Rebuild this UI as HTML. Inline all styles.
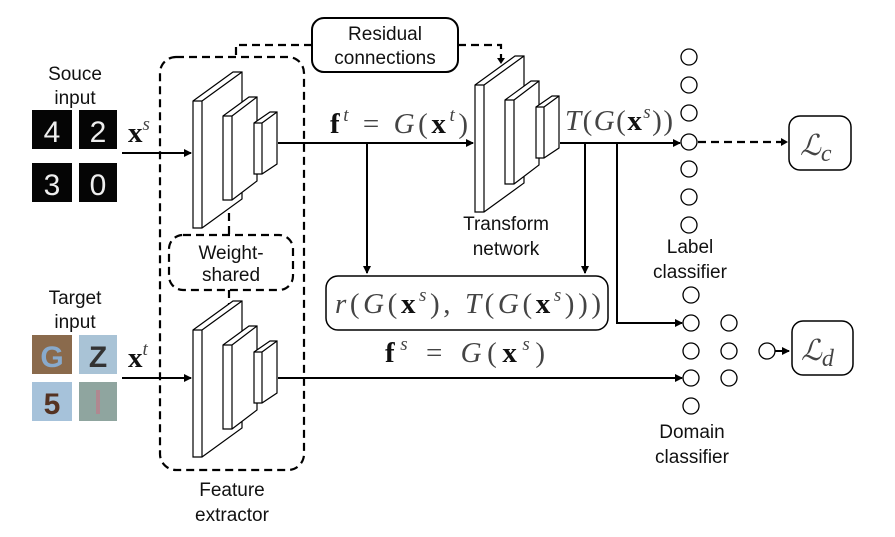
<!DOCTYPE html>
<html><head><meta charset="utf-8"><style>
html,body{margin:0;padding:0;background:#fff}
svg{display:block}
.s{font-family:"Liberation Sans",sans-serif;font-size:19px;fill:#111;text-anchor:middle}
.m{font-family:"Liberation Serif",serif;font-size:29px;fill:#444;font-style:italic}
.b{font-weight:bold;font-style:normal;fill:#111}
.u{font-style:normal}
</style></head><body>
<svg width="895" height="537" viewBox="0 0 895 537" xmlns="http://www.w3.org/2000/svg">
<defs>
<marker id="a" markerWidth="8" markerHeight="8" refX="7" refY="4" orient="auto" markerUnits="userSpaceOnUse"><path d="M0,0 L8,4 L0,8 z" fill="#000"/></marker>
<g id="net">
<path d="M193,101 L233,72 L242,72 L242,199 L202,228 L193,228 Z" fill="#fff" stroke="#000" stroke-width="1.2"/>
<path d="M193,101 L202,101 L242,72 M202,101 L202,228" fill="none" stroke="#000" stroke-width="1.2"/>
<path d="M223,116 L249,97 L257,97 L257,181 L232,200 L223,200 Z" fill="#fff" stroke="#000" stroke-width="1.2"/>
<path d="M223,116 L232,116 L257,97 M232,116 L232,200" fill="none" stroke="#000" stroke-width="1.2"/>
<path d="M254,123 L270,112 L277,112 L277,164 L262,174 L254,174 Z" fill="#fff" stroke="#000" stroke-width="1.2"/>
<path d="M254,123 L262,123 L277,112 M262,123 L262,174" fill="none" stroke="#000" stroke-width="1.2"/>
</g>
</defs>

<!-- source inputs -->
<text class="s" x="75" y="80">Souce</text>
<text class="s" x="75" y="104">input</text>
<rect x="32" y="110" width="40" height="39" fill="#050505"/>
<rect x="79" y="110" width="38" height="39" fill="#050505"/>
<rect x="32" y="163" width="40" height="39" fill="#050505"/>
<rect x="79" y="163" width="38" height="39" fill="#050505"/>
<text x="52" y="142" font-family="Liberation Sans" font-size="30" fill="#eee" text-anchor="middle">4</text>
<text x="98" y="142" font-family="Liberation Sans" font-size="30" fill="#eee" text-anchor="middle">2</text>
<text x="52" y="195" font-family="Liberation Sans" font-size="30" fill="#eee" text-anchor="middle">3</text>
<text x="98" y="195" font-family="Liberation Sans" font-size="30" fill="#eee" text-anchor="middle">0</text>

<!-- target inputs -->
<text class="s" x="75" y="304">Target</text>
<text class="s" x="75" y="328">input</text>
<rect x="32" y="335" width="40" height="39" fill="#8a6a4c"/>
<rect x="79" y="335" width="38" height="39" fill="#a9c3d6"/>
<rect x="32" y="382" width="40" height="39" fill="#a6c2da"/>
<rect x="79" y="382" width="38" height="39" fill="#8fa59f"/>
<text x="52" y="367" font-family="Liberation Sans" font-size="30" fill="#88aacc" text-anchor="middle" font-weight="bold">G</text>
<text x="98" y="367" font-family="Liberation Sans" font-size="30" fill="#333" text-anchor="middle" font-weight="bold">Z</text>
<text x="52" y="414" font-family="Liberation Sans" font-size="30" fill="#553322" text-anchor="middle" font-weight="bold">5</text>
<rect x="96" y="390" width="4" height="24" fill="#b08890"/>

<text class="m" x="128" y="142"><tspan class="b">x</tspan><tspan font-size="19" dy="-12">s</tspan></text>
<text class="m" x="128" y="367"><tspan class="b">x</tspan><tspan font-size="19" dy="-12">t</tspan></text>

<!-- dashed boxes -->
<g fill="none" stroke="#000" stroke-width="2.2" stroke-dasharray="8,5">
<rect x="160" y="57" width="144" height="413" rx="16"/>
<rect x="169" y="235" width="124" height="55" rx="14"/>
<path d="M229,200 V235 M229,290 V305"/>
<path d="M312,45 H236 V57"/>
<path d="M458,45 H501 V58"/>
<path d="M698,142 H782"/>
</g>
<path d="M497,58 L501,64 L505,58 z" fill="#000"/>
<path d="M781,138 L788,142 L781,146 z" fill="#000"/>

<rect x="312" y="18" width="146" height="54" rx="12" fill="#fff" stroke="#000" stroke-width="2"/>
<text class="s" x="385" y="40">Residual</text>
<text class="s" x="385" y="64">connections</text>
<text class="s" x="231" y="259">Weight-</text>
<text class="s" x="231" y="281">shared</text>
<text class="s" x="232" y="496">Feature</text>
<text class="s" x="232" y="521">extractor</text>

<!-- networks -->
<use href="#net"/>
<use href="#net" transform="translate(0,229)"/>
<use href="#net" transform="translate(282,-16)"/>

<!-- connectors -->
<g fill="none" stroke="#000" stroke-width="2">
<path d="M122,153 H191" marker-end="url(#a)"/>
<path d="M122,378 H191" marker-end="url(#a)"/>
<path d="M278,143 H473" marker-end="url(#a)"/>
<path d="M367,143 V273" marker-end="url(#a)"/>
<path d="M560,143 H680" marker-end="url(#a)"/>
<path d="M585,143 V273" marker-end="url(#a)"/>
<path d="M617,143 V323 H682" marker-end="url(#a)"/>
<path d="M278,378 H682" marker-end="url(#a)"/>
<path d="M775,351 H789" marker-end="url(#a)"/>
</g>

<text class="s" x="506" y="230">Transform</text>
<text class="s" x="506" y="255">network</text>

<text class="m" x="330" y="133" textLength="138" lengthAdjust="spacing"><tspan class="b">f</tspan><tspan font-size="19" dy="-12">t</tspan><tspan dy="12" class="u"> = </tspan>G<tspan class="u">(</tspan><tspan class="b">x</tspan><tspan font-size="19" dy="-12">t</tspan><tspan dy="12" class="u">)</tspan></text>
<text class="m" x="565" y="130" textLength="108" lengthAdjust="spacing">T<tspan class="u">(</tspan>G<tspan class="u">(</tspan><tspan class="b">x</tspan><tspan font-size="19" dy="-12">s</tspan><tspan dy="12" class="u">))</tspan></text>

<rect x="326" y="276" width="282" height="54" rx="12" fill="#fff" stroke="#000" stroke-width="1.5"/>
<text class="m" x="335" y="313" textLength="266" lengthAdjust="spacing">r<tspan class="u">(</tspan>G<tspan class="u">(</tspan><tspan class="b">x</tspan><tspan font-size="19" dy="-12">s</tspan><tspan dy="12" class="u">), </tspan>T<tspan class="u">(</tspan>G<tspan class="u">(</tspan><tspan class="b">x</tspan><tspan font-size="19" dy="-12">s</tspan><tspan dy="12" class="u">)))</tspan></text>
<text class="m" x="385" y="362" textLength="160" lengthAdjust="spacing"><tspan class="b">f</tspan><tspan font-size="19" dy="-12">s</tspan><tspan dy="12" class="u"> = </tspan>G<tspan class="u">(</tspan><tspan class="b">x</tspan><tspan font-size="19" dy="-12">s</tspan><tspan dy="12" class="u">)</tspan></text>

<!-- circles -->
<g fill="#fff" stroke="#000" stroke-width="1.3">
<circle cx="689" cy="57" r="8"/><circle cx="689" cy="85" r="8"/><circle cx="689" cy="113" r="8"/>
<circle cx="689" cy="142" r="8"/><circle cx="689" cy="169" r="8"/><circle cx="689" cy="197" r="8"/><circle cx="689" cy="225" r="8"/>
<circle cx="691" cy="295" r="8"/><circle cx="691" cy="323" r="8"/><circle cx="691" cy="351" r="8"/><circle cx="691" cy="378" r="8"/><circle cx="691" cy="406" r="8"/>
<circle cx="729" cy="323" r="8"/><circle cx="729" cy="351" r="8"/><circle cx="729" cy="378" r="8"/>
<circle cx="767" cy="351" r="8"/>
</g>
<text class="s" x="690" y="253">Label</text>
<text class="s" x="690" y="278">classifier</text>
<text class="s" x="692" y="438">Domain</text>
<text class="s" x="692" y="463">classifier</text>

<rect x="789" y="116" width="62" height="54" rx="11" fill="#fff" stroke="#000" stroke-width="1.5"/>
<text class="m" x="800" y="155" font-size="36" fill="#222">ℒ<tspan font-size="24" dy="6">c</tspan></text>
<rect x="792" y="321" width="61" height="54" rx="11" fill="#fff" stroke="#000" stroke-width="1.5"/>
<text class="m" x="801" y="360" font-size="36" fill="#222">ℒ<tspan font-size="24" dy="6">d</tspan></text>
</svg>
</body></html>
